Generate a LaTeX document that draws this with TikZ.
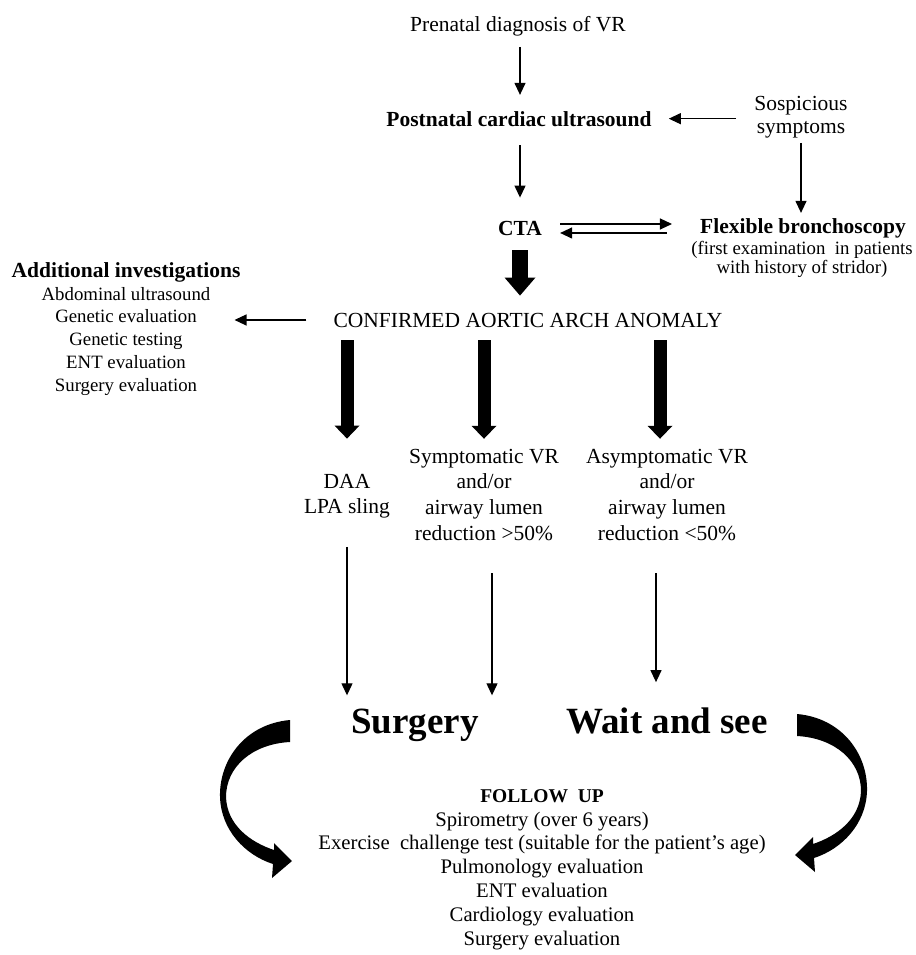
\documentclass[tikz,border=0pt]{standalone}
\usepackage{fontspec}
\setmainfont{Liberation Serif}
\usetikzlibrary{arrows.meta}

\tikzset{
  txt/.style={inner sep=0pt, anchor=base, align=center, font=\fontsize{21.5}{25.6}\selectfont},
  bftxt/.style={txt, font=\fontsize{21.5}{25.6}\selectfont\bfseries},
  notetxt/.style={txt, font=\fontsize{18.8}{18.5}\selectfont},
  listtxt/.style={txt, font=\fontsize{18.8}{22.7}\selectfont},
  fuptxt/.style={txt, font=\fontsize{20.7}{23.8}\selectfont},
  bigtxt/.style={txt, font=\fontsize{37}{40}\selectfont\bfseries},
  arr/.style={line width=1.2pt, -{Triangle[width=11pt,length=12pt]}},
  fatarr/.style={line width=13pt, -{Triangle[width=25pt,length=13pt,line width=0pt]}},
  ctaarr/.style={line width=16pt, -{Triangle[width=31pt,length=18pt,line width=0pt]}},
  bendarrow/.pic={
    \fill (290,720) .. controls (245,724) and (219,760) .. (220,797)
      .. controls (221,830) and (245,855) .. (273,864)
      -- (272,878) -- (292,861) -- (274,843)
      -- (274,850) .. controls (250,842) and (227,825) .. (226,797)
      .. controls (226,767) and (252,744) .. (290,742) -- cycle;
  }
}

\begin{document}
\begin{tikzpicture}[x=1pt, y=-1pt]
\useasboundingbox (0,0) rectangle (915,955);
% diagnosis
\node[txt] (pre) at (518,32) {Prenatal diagnosis of VR};
\node[bftxt] (post) at (519,126) {Postnatal cardiac ultrasound};
\node[txt, font=\fontsize{21.5}{23}\selectfont] (sym) at (801,133) {Sospicious\\symptoms};
\node[bftxt] (cta) at (520,235) {CTA};
\node[bftxt] (flex) at (803,233) {Flexible bronchoscopy};
\node[notetxt] (flexnote) at (802,273) {(first examination\ \ in patients\\with history of stridor)};
\node[bftxt] (addhead) at (126,277) {Additional investigations};
\node[listtxt] (addlist) at (126,391) {Abdominal ultrasound\\Genetic evaluation\\Genetic testing\\ENT evaluation\\Surgery evaluation};
\node[txt] (conf) at (528,327) {CONFIRMED AORTIC ARCH ANOMALY};
% groups
\node[txt, font=\fontsize{21.5}{25}\selectfont] (daa) at (347,513) {DAA\\LPA sling};
\node[txt] (symp) at (484,540) {Symptomatic VR\\and/or\\airway lumen\\reduction >50\%};
\node[txt] (asymp) at (667,540) {Asymptomatic VR\\and/or\\airway lumen\\reduction <50\%};
\node[bigtxt] (surg) at (415,733) {Surgery};
\node[bigtxt] (wait) at (667,733) {Wait and see};
\node[fuptxt] (fup) at (542,945) {{\fontsize{19.5}{23.8}\selectfont\bfseries FOLLOW\ \ UP}\\Spirometry (over 6 years)\\Exercise\ \ challenge test (suitable for the patient’s age)\\Pulmonology evaluation\\ENT evaluation\\Cardiology evaluation\\Surgery evaluation};
% thin arrows
\draw[arr, shorten <=10pt, shorten >=16pt] (cta.north |- pre.south) -- (cta.north |- post.north);
\draw[arr, shorten <=19pt, shorten >=23pt] (cta.north |- post.south) -- (cta.north);
\draw[arr, shorten <=18pt, shorten >=17pt] (sym.west |- post.east) -- (post.east);
\draw[arr, shorten <=5pt, shorten >=5pt] (sym.south) -- (sym.south |- flex.north);
\draw[arr, shorten <=18pt, shorten >=28pt] ([yshift=4pt]cta.east) -- ([yshift=4pt]cta.east -| flex.west);
\draw[arr, shorten <=33pt, shorten >=18pt] ([yshift=-5pt]cta.east -| flex.west) -- ([yshift=-5pt]cta.east);
\draw[arr, shorten <=27pt, shorten >=24pt] (conf.west) -- (conf.west -| addlist.east);
% thick arrows
\draw[ctaarr, shorten <=15pt, shorten >=17pt] (cta.south) -- (cta.south |- conf.north);
\draw[fatarr, shorten <=13pt, shorten >=35pt] (conf.south -| daa.north) -- (daa.north);
\draw[fatarr, shorten <=13pt, shorten >=10pt] (conf.south -| symp.north) -- (symp.north);
\draw[fatarr, shorten <=13pt, shorten >=10pt] ([xshift=-7pt]conf.south -| asymp.north) -- ([xshift=-7pt]asymp.north);
% to decisions
\draw[arr, shorten <=29pt, shorten >=13pt] (daa.south) -- (daa.south |- surg.north);
\draw[arr, shorten <=33pt, shorten >=13pt] ([xshift=8pt]symp.south) -- ([xshift=8pt]symp.south |- surg.north);
\draw[arr, shorten <=33pt, shorten >=25pt] ([xshift=-11pt]asymp.south) -- ([xshift=-11pt]asymp.south |- wait.north);
% follow up loop
\pic (bendleft) at (0,0) {bendarrow};
\pic (bendright) [xscale=-1] at (1087,-6) {bendarrow};
\end{tikzpicture}
\end{document}
